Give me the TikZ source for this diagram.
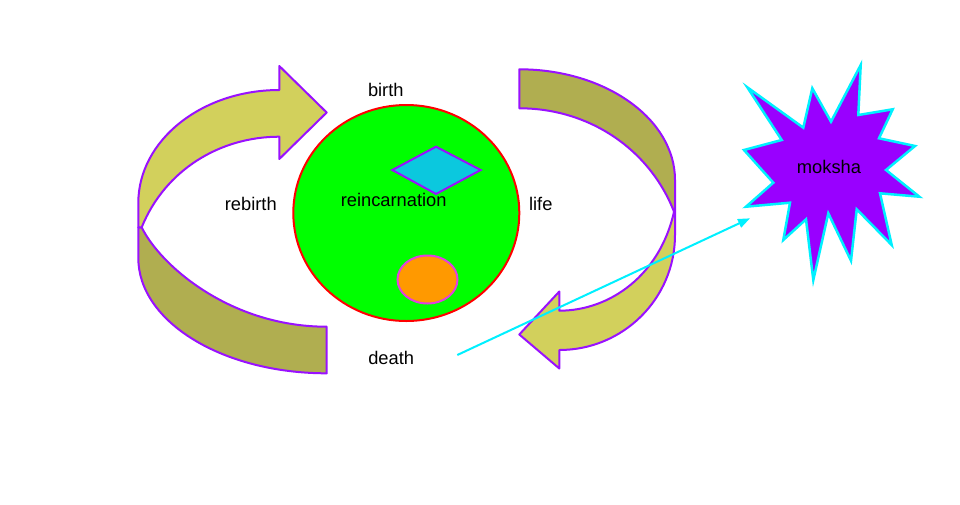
\documentclass[tikz,border=0pt]{standalone}
\usepackage{fontspec}
\setmainfont{Liberation Sans}
\usetikzlibrary{arrows.meta}
\definecolor{olivelight}{RGB}{210,208,92}
\definecolor{olivedark}{RGB}{176,174,80}
\definecolor{ribbonedge}{RGB}{153,17,255}
\definecolor{starfill}{RGB}{153,0,255}
\definecolor{cyanline}{RGB}{0,240,255}
\definecolor{diamondfill}{RGB}{11,200,222}
\definecolor{orangefill}{RGB}{255,153,0}
\definecolor{orangeedge}{RGB}{224,64,224}
\tikzset{
  lightribbon/.style={fill=olivelight,draw=ribbonedge,line width=2pt,line join=round},
  darkribbon/.style={fill=olivedark,draw=ribbonedge,line width=2pt,line join=round},
  lbl/.style={font=\fontsize{18.3}{22}\selectfont,inner sep=0pt,anchor=base,text=black},
}
\begin{document}
\begin{tikzpicture}[x=1pt,y=-1pt]
\useasboundingbox (0,0) rectangle (960,504);
\fill[white] (0,0) rectangle (960,504);
% left ribbon arrow
\draw[darkribbon] (141.7,227.3) .. controls (160,265) and (230,326.7) .. (326.7,326.7)
  -- (326.7,373.3) .. controls (222.6,373.3) and (138.3,321.7) .. (138.3,258)
  -- (138.3,227.3) -- cycle;
\draw[lightribbon] (279.3,90) .. controls (201.4,90) and (138.3,140.6) .. (138.3,203)
  -- (138.3,227.3) -- (141.7,227.3)
  .. controls (165,170) and (220,136.7) .. (279.3,136.7)
  -- (279.3,159) -- (326.7,112.5) -- (279.3,66) -- cycle;
% right ribbon arrow
\draw[darkribbon] (519.3,69.3) .. controls (605.3,69.3) and (675,118.9) .. (675,180)
  -- (675,211.7) -- (674,211.7)
  .. controls (650,150) and (590,108.3) .. (519.3,108.3) -- cycle;
\draw[lightribbon] (674,211.7) -- (675,211.7) -- (675,235)
  .. controls (675,298.5) and (623.2,350) .. (559.3,350)
  -- (559.3,368.5) -- (519.3,334.5) -- (559.3,291.5) -- (559.3,310.7)
  .. controls (610,310.7) and (660,275) .. (674,211.7) -- cycle;
% central circle
\draw[fill=green,draw=red,line width=2pt] (406.3,213) ellipse [x radius=113,y radius=108];
\draw[fill=diamondfill,draw=ribbonedge,line width=2pt,line join=miter]
  (392.3,170) -- (436,146.7) -- (480.7,170) -- (436,194) -- cycle;
\draw[fill=orangefill,draw=orangeedge,line width=2pt] (427.5,279.5) ellipse [x radius=30,y radius=24];
% star
\draw[fill=starfill,draw=cyanline,line width=2.5pt,line join=miter]
  (747.3,87.3) -- (803.3,127.7) -- (812.3,88.3) -- (831,121.7) -- (860.7,65)
  -- (858.3,115) -- (892.7,109.3) -- (879,138.3) -- (915,146) -- (886,170)
  -- (919.3,196.7) -- (880,193.3) -- (891.7,245) -- (856.7,209.3) -- (851,260.7)
  -- (828.3,213.3) -- (813.3,280) -- (806,219.3) -- (783.3,240) -- (790,202.7)
  -- (746,206.7) -- (773.3,182.7) -- (744,150) -- (781.7,140) -- cycle;
% labels
\node[lbl] (birth) at (385.8,96.5) {birth};
\node[lbl] (reinc) at (393.7,206) {reincarnation};
\node[lbl] (death) at (391.2,364) {death};
\node[lbl] (life) at (540.8,210) {life};
\node[lbl] (rebirth) at (250.8,210.7) {rebirth};
\node[lbl] (moksha) at (829,173.3) {moksha};
% connector
\coordinate (cstart) at (457.3,355);
\coordinate (cend) at (750,218.3);
\draw[cyanline,line width=2pt,-{Triangle[length=12pt,width=9pt]}] (cstart) -- (cend);
\end{tikzpicture}
\end{document}
